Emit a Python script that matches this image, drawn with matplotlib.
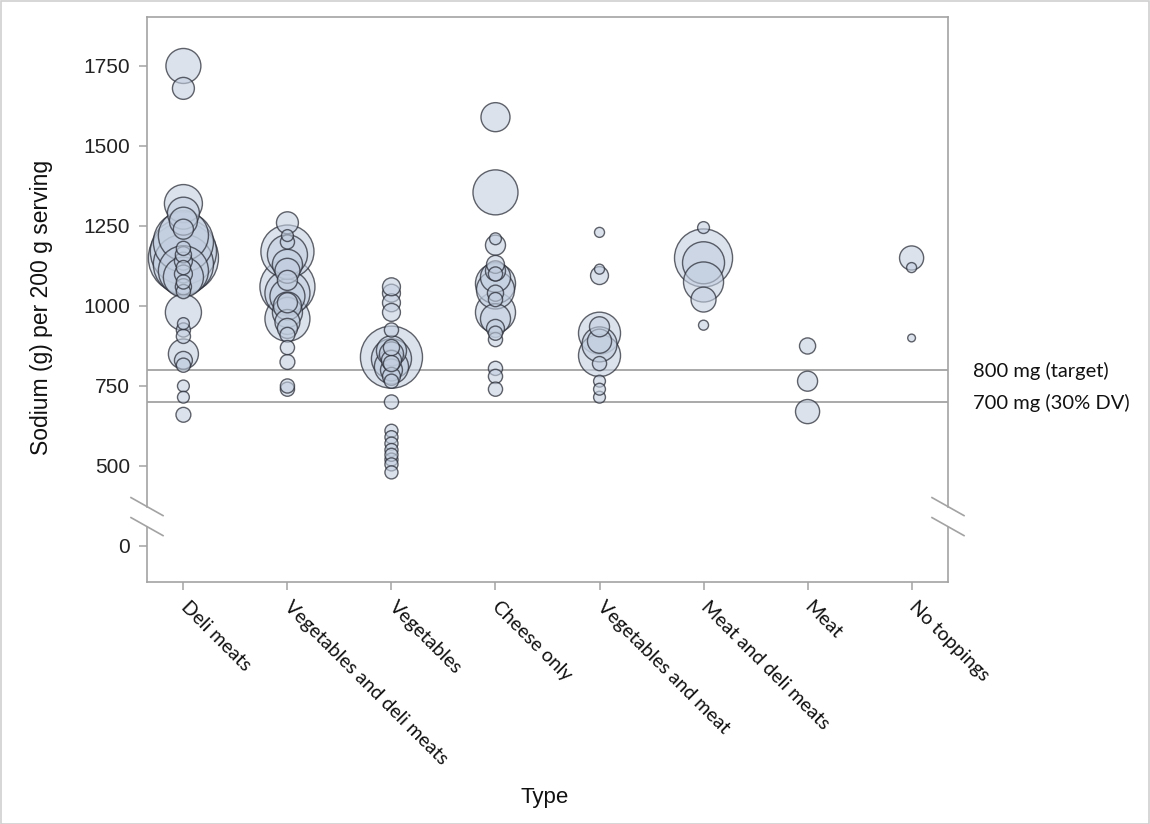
import numpy as np
import matplotlib
matplotlib.use("Agg")
import matplotlib.pyplot as plt
from matplotlib.lines import Line2D
from matplotlib.patches import Rectangle

# Pizza types along the x axis
types = ["Deli meats", "Vegetables and deli meats", "Vegetables", "Cheese only",
         "Vegetables and meat", "Meat and deli meats", "Meat", "No toppings"]

# Sodium (mg per 200 g serving) and bubble size (relative area) for each pizza type
sodium_deli = [1750, 1680, 1320, 1290, 1265, 1240, 1220, 1200, 1180, 1170, 1160, 1150,
               1140, 1130, 1120, 1110, 1100, 1090, 1075, 1060, 1045, 980, 945, 925,
               905, 850, 830, 815, 750, 715, 660]
bubble_deli = [122, 48, 144, 102, 78, 40, 250, 360, 20, 436, 26, 490,
               32, 360, 20, 250, 32, 160, 20, 26, 20, 130, 14, 20,
               20, 90, 32, 20, 14, 14, 22]

sodium_vegdeli = [1260, 1220, 1200, 1170, 1160, 1130, 1110, 1080, 1060, 1040, 1030,
                  1010, 1000, 980, 960, 950, 930, 910, 870, 825, 750, 740]
bubble_vegdeli = [48, 14, 20, 281, 160, 90, 62, 40, 302, 202, 122,
                  40, 78, 90, 202, 62, 40, 22, 20, 22, 20, 20]

sodium_veg = [1060, 1040, 1010, 980, 925, 870, 860, 850, 840, 835, 830, 820, 810,
              800, 780, 765, 700, 610, 590, 570, 550, 535, 520, 505, 480]
bubble_veg = [32, 32, 32, 32, 20, 26, 90, 58, 384, 160, 40, 26, 116,
              48, 32, 20, 20, 17, 17, 17, 17, 17, 17, 17, 17]

sodium_cheese = [1590, 1355, 1210, 1190, 1130, 1110, 1100, 1090, 1070, 1050, 1040,
                 1020, 980, 960, 930, 915, 895, 805, 780, 740]
bubble_cheese = [84, 202, 14, 40, 32, 40, 20, 90, 160, 144, 26,
                 20, 160, 90, 32, 20, 20, 20, 20, 20]

sodium_vegmeat = [1230, 1115, 1095, 935, 915, 890, 880, 845, 820, 765, 740, 715]
bubble_vegmeat = [10, 10, 32, 40, 176, 58, 122, 176, 20, 14, 14, 14]

sodium_meatdeli = [1245, 1150, 1135, 1075, 1020, 940]
bubble_meatdeli = [14, 336, 176, 160, 62, 10]

sodium_meat = [875, 765, 670]
bubble_meat = [26, 40, 58]

sodium_plain = [1150, 1120, 900]
bubble_plain = [58, 10, 6]

sodium_by_type = [sodium_deli, sodium_vegdeli, sodium_veg, sodium_cheese,
                  sodium_vegmeat, sodium_meatdeli, sodium_meat, sodium_plain]
bubble_by_type = [bubble_deli, bubble_vegdeli, bubble_veg, bubble_cheese,
                  bubble_vegmeat, bubble_meatdeli, bubble_meat, bubble_plain]

# Reference levels
ref_values = [800, 700]
ref_labels = ["800 mg (target)", "700 mg (30% DV)"]

yticks = [0, 500, 750, 1000, 1250, 1500, 1750]

# Broken y axis: values below BREAK_LO are squeezed so that 0 sits one tick step below 500
BREAK_LO = 400.0
ZERO_POS = 250.0


def fwd(v):
    v = np.asarray(v, dtype=float)
    return np.where(v >= BREAK_LO, v, ZERO_POS + v * (BREAK_LO - ZERO_POS) / BREAK_LO)


def inv(u):
    u = np.asarray(u, dtype=float)
    return np.where(u >= BREAK_LO, u, (u - ZERO_POS) * BREAK_LO / (BREAK_LO - ZERO_POS))


W, H = 1150, 824
fig = plt.figure(figsize=(W / 100, H / 100), dpi=100)
L, R, T, B = 147, 948, 17, 582
ax = fig.add_axes([L / W, 1 - B / H, (R - L) / W, (B - T) / H])

ax.set_yscale("function", functions=(fwd, inv))
ax.set_ylim(-300, 1903)
ax.set_xlim(-0.35, 7.35)

face = (0.765, 0.812, 0.878, 0.6)
edge = (0.15, 0.16, 0.2, 0.72)
AREA_SCALE = 5.2

for i, (vals, sizes) in enumerate(zip(sodium_by_type, bubble_by_type)):
    order = np.argsort(sizes)[::-1]
    v = np.asarray(vals, dtype=float)[order]
    s = np.asarray(sizes, dtype=float)[order] * AREA_SCALE
    ax.scatter(np.full(len(v), i), v, s=s, facecolors=face, edgecolors=edge,
               linewidths=1.0, zorder=3)

line_col = "#a3a3a3"
for val in ref_values:
    ax.axhline(val, color=line_col, lw=1.3, zorder=2)

ytr = ax.get_yaxis_transform()
for val, lab in zip(ref_values, ref_labels):
    ax.text((973 - L) / (R - L), val - 4, lab, transform=ytr, ha="left", va="center",
            fontsize=14.5, family="Lato", color="#111111", clip_on=False)

ax.set_yticks(yticks)
ax.set_yticklabels([str(t) for t in yticks], fontsize=15, family="Liberation Sans",
                   color="#222222")
ax.minorticks_off()
ax.set_xticks(range(len(types)))
ax.set_xticklabels(types, rotation=-45, ha="left", va="center", rotation_mode="anchor",
                   fontsize=14, family="Lato", color="#111111")
ax.tick_params(axis="both", direction="out", length=6, width=1.1, color=line_col)
ax.tick_params(axis="y", pad=6)
ax.tick_params(axis="x", pad=10)

for sp in ax.spines.values():
    sp.set_color(line_col)
    sp.set_linewidth(1.2)
ax.spines["left"].set_visible(False)
ax.spines["right"].set_visible(False)

# Side spines drawn in two pieces with a gap at the axis break, plus break marks
y_break = 245
yb = ax.transAxes.inverted().transform(ax.transData.transform((0, y_break)))[1]
ph = (B - T)
pw = (R - L)
gap = 10 / ph
dx, dy = 16 / pw, 9 / ph
for xs in (0.0, 1.0):
    ax.add_line(Line2D([xs, xs], [0, yb - gap], transform=ax.transAxes, color=line_col,
                       lw=1.2, clip_on=False))
    ax.add_line(Line2D([xs, xs], [yb + gap, 1], transform=ax.transAxes, color=line_col,
                       lw=1.2, clip_on=False))
    for yc in (yb + gap, yb - gap):
        ax.add_line(Line2D([xs - dx, xs + dx], [yc + dy, yc - dy], transform=ax.transAxes,
                           color=line_col, lw=1.2, clip_on=False))

fig.text(42 / W, 1 - 307 / H, "Sodium (g) per 200 g serving", rotation=90,
         ha="center", va="center", fontsize=16.5, family="Liberation Sans", color="#111111")
fig.text(545 / W, 1 - 797 / H, "Type", ha="center", va="center", fontsize=16,
         family="Liberation Sans", color="#111111")

fig.add_artist(Rectangle((0.5 / W, 0.5 / H), 1 - 1.5 / W, 1 - 1.5 / H,
                         transform=fig.transFigure, fill=False, edgecolor="#cfcfcf", lw=1.2))

fig.savefig("out.png", dpi=100)
